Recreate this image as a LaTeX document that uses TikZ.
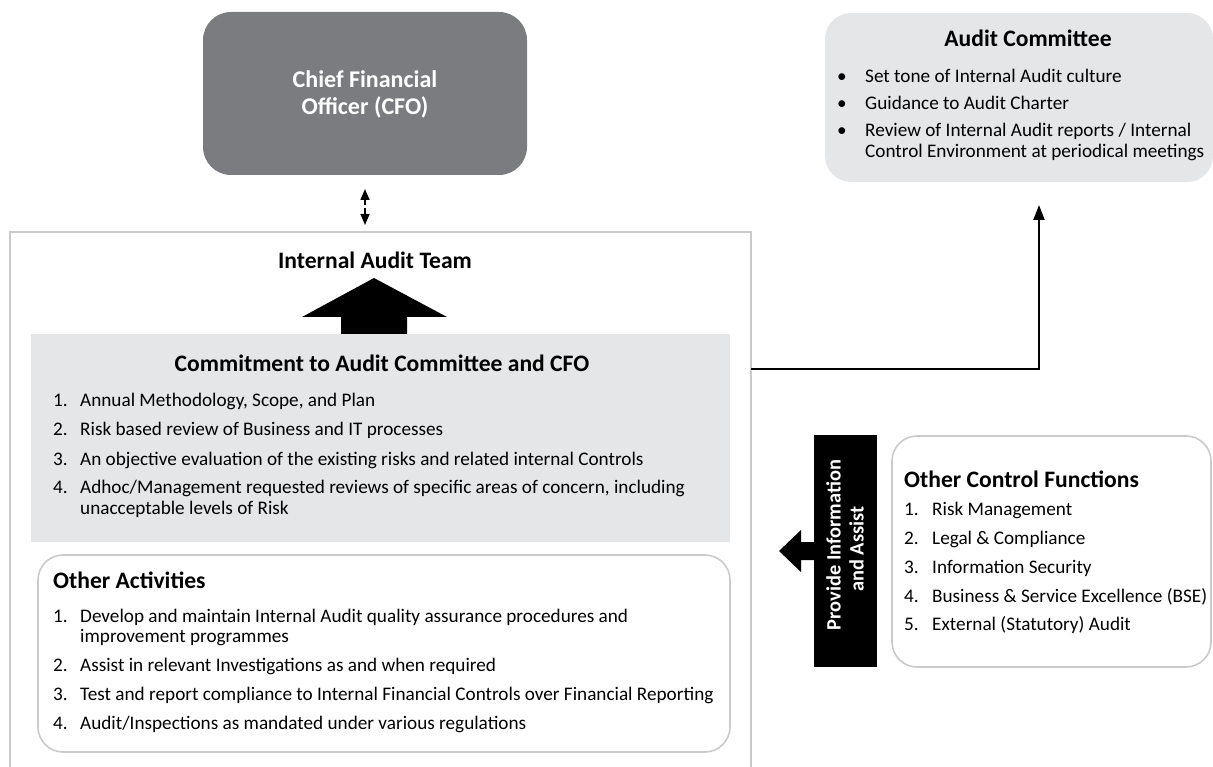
\documentclass[tikz,border=0pt]{standalone}
\usepackage{fontspec}
\setmainfont{Carlito}
\usetikzlibrary{arrows.meta}
\definecolor{cfogray}{HTML}{7B7C80}
\definecolor{panel}{HTML}{E5E6E8}
\definecolor{edgegray}{HTML}{C9CACC}
\begin{document}
\begin{tikzpicture}[x=1pt,y=-1pt,
  body/.style={inner sep=0,anchor=base west,font=\fontsize{19.2}{23}\selectfont},
  ttl/.style={inner sep=0,anchor=base,font=\bfseries\fontsize{23.6}{28}\selectfont},
  box/.style={rectangle,inner sep=0,outer sep=0},
  conn/.style={line width=2.2pt,-{Triangle[length=15pt,width=11pt]}},
  dbl/.style={line width=1.5pt,-{Triangle[length=11pt,width=9pt]}},
  rot/.style={inner sep=0,anchor=base,rotate=90,text=white,font=\bfseries\fontsize{20.4}{24}\selectfont},
]
\useasboundingbox (0,0) rectangle (1213,767);

% CFO
\node[box,fill=cfogray,rounded corners=28pt,minimum width=324pt,minimum height=163pt] (cfo) at (365,93.5) {};
\node[ttl,text=white,font=\bfseries\fontsize{24}{28}\selectfont] (cfotxt1) at (365,88) {Chief Financial};
\node[ttl,text=white,font=\bfseries\fontsize{24}{28}\selectfont] (cfotxt2) at (365,115) {Officer (CFO)};

% Audit committee
\node[box,fill=panel,rounded corners=26pt,minimum width=388pt,minimum height=169pt] (ac) at (1019,97.5) {};
\node[ttl] (actitle) at (1028,47) {Audit Committee};
\node[body] (acb1) at (837,83) {\textbullet};
\node[body] (act1) at (865,83) {Set tone of Internal Audit culture};
\node[body] (acb2) at (837,110) {\textbullet};
\node[body] (act2) at (865,110) {Guidance to Audit Charter};
\node[body] (acb3) at (837,137) {\textbullet};
\node[body] (act3) at (865,137) {Review of Internal Audit reports / Internal};
\node[body] (act3b) at (865,158) {Control Environment at periodical meetings};

% double arrow CFO <-> team
\coordinate (da0) at (365,189);
\coordinate (da1) at (365,205);
\coordinate (da2) at (365,208);
\coordinate (da3) at (365,225);
\draw[dbl] (da1) -- (da0);
\draw[dbl] (da2) -- (da3);

% outer box
\node[box,minimum width=741pt,minimum height=545pt] (iat) at (380.5,504.5) {};
\draw[edgegray,line width=1.6pt] (iat.south west) -- (iat.north west) -- (iat.north east) -- (iat.south east);
\node[ttl] (iattitle) at (375,269) {Internal Audit Team};

% big arrow
\fill (374,278) -- (447,317) -- (407,317) -- (407,334) -- (341,334) -- (341,317) -- (302,317) -- cycle;

% commitment box
\node[box,fill=panel,minimum width=699pt,minimum height=208pt] (cm) at (380.5,438) {};
\node[ttl] (cmtitle) at (382,371) {Commitment to Audit Committee and CFO};
\node[body] (cmn1) at (53,406) {1.};
\node[body] (cmt1) at (80,406) {Annual Methodology, Scope, and Plan};
\node[body] (cmn2) at (53,435) {2.};
\node[body] (cmt2) at (80,435) {Risk based review of Business and IT processes};
\node[body] (cmn3) at (53,465) {3.};
\node[body] (cmt3) at (80,465) {An objective evaluation of the existing risks and related internal Controls};
\node[body] (cmn4) at (53,493) {4.};
\node[body] (cmt4) at (80,493) {Adhoc/Management requested reviews of specific areas of concern, including};
\node[body] (cmt4b) at (80,514) {unacceptable levels of Risk};

% other activities
\node[box,draw=edgegray,line width=1.6pt,rounded corners=25pt,minimum width=692pt,minimum height=197pt] (oa) at (384,653.5) {};
\node[ttl,anchor=base west] (oatitle) at (53,588) {Other Activities};
\node[body] (oan1) at (53,622) {1.};
\node[body] (oat1) at (80,622) {Develop and maintain Internal Audit quality assurance procedures and};
\node[body] (oat1b) at (80,642) {improvement programmes};
\node[body] (oan2) at (53,671) {2.};
\node[body] (oat2) at (80,671) {Assist in relevant Investigations as and when required};
\node[body] (oan3) at (53,700) {3.};
\node[body] (oat3) at (80,700) {Test and report compliance to Internal Financial Controls over Financial Reporting};
\node[body] (oan4) at (53,729) {4.};
\node[body] (oat4) at (80,729) {Audit/Inspections as mandated under various regulations};

% connector to audit committee
\coordinate (c1) at (751,369);
\coordinate (actip) at (1039,205);
\draw[conn] (c1) -| (actip);

% provide information box
\node[box,fill=black,minimum width=63pt,minimum height=232pt] (pia) at (845.5,551) {};
\node[rot] (piatxt1) at (840.5,545) {Provide Information};
\node[rot] (piatxt2) at (863.5,549) {and Assist};
\fill (pia.west |- 0,542) -- (801,542) -- (801,530) -- (779,551) -- (801,572) -- (801,560) -- (pia.west |- 0,560) -- cycle;

% other control functions
\node[box,draw=edgegray,line width=1.6pt,rounded corners=25pt,minimum width=319pt,minimum height=231pt] (ocf) at (1051.5,551.5) {};
\node[ttl,anchor=base west] (ocftitle) at (904,487) {Other Control Functions};
\node[body] (ocn1) at (904,515) {1.};
\node[body] (oct1) at (932,515) {Risk Management};
\node[body] (ocn2) at (904,544) {2.};
\node[body] (oct2) at (932,544) {Legal \& Compliance};
\node[body] (ocn3) at (904,573) {3.};
\node[body] (oct3) at (932,573) {Information Security};
\node[body] (ocn4) at (904,602) {4.};
\node[body] (oct4) at (932,602) {Business \& Service Excellence (BSE)};
\node[body] (ocn5) at (904,630) {5.};
\node[body] (oct5) at (932,630) {External (Statutory) Audit};
\end{tikzpicture}
\end{document}
